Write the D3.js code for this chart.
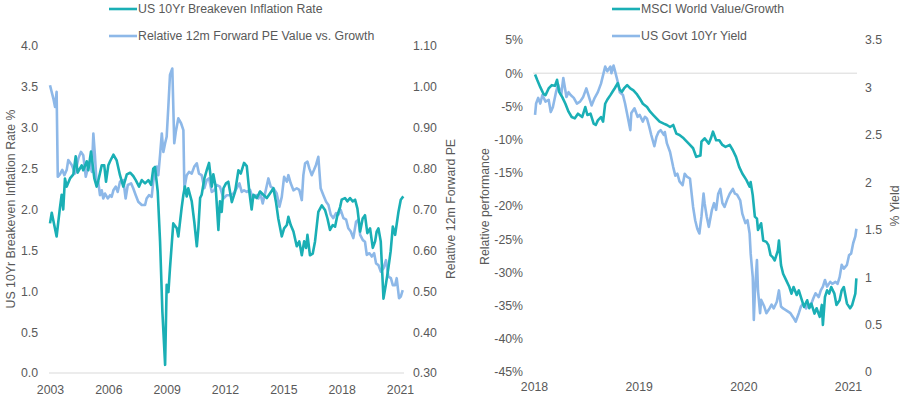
<!DOCTYPE html>
<html>
<head>
<meta charset="utf-8" />
<title>Value vs Growth, inflation and yields</title>
<style>
body { margin: 0; background: #fff; }
#graph { width: 906px; height: 397px; }
text { font-family: "Liberation Sans", Arial, sans-serif; font-size: 12.3px; fill: #595959; }
.line { fill: none; stroke-width: 2.6px; stroke-linejoin: round; }
.grid { stroke: #d9d9d9; stroke-width: 1px; }
</style>
</head>
<body>
<div id="graph"></div>
<script src="https://cdnjs.cloudflare.com/ajax/libs/d3/7.8.5/d3.min.js"></script>
<script>
// left panel: US 10yr breakeven (left axis) vs relative 12m fwd PE (right axis)
var beYears = [2003.00,2003.09,2003.34,2003.51,2003.60,2003.68,2003.77,2003.86,2004.03,2004.20,2004.32,2004.42,2004.63,2004.71,2004.89,2004.97,
  2005.11,2005.28,2005.40,2005.48,2005.66,2005.79,2005.88,2006.00,2006.09,2006.26,2006.43,2006.60,2006.77,2006.95,2007.12,2007.28,2007.41,
  2007.58,2007.72,2007.89,2008.06,2008.20,2008.31,2008.40,2008.54,2008.66,2008.78,2008.92,2009.00,2009.09,2009.17,2009.34,2009.52,2009.60,
  2009.77,2009.86,2009.94,2010.03,2010.11,2010.29,2010.42,2010.55,2010.63,2010.72,2010.80,2010.94,2011.06,2011.18,2011.32,2011.40,2011.52,
  2011.66,2011.74,2011.83,2011.92,2012.05,2012.17,2012.35,2012.52,2012.69,2012.81,2012.98,2013.12,2013.25,2013.37,2013.46,2013.63,2013.80,
  2013.97,2014.15,2014.32,2014.49,2014.63,2014.74,2014.92,2015.04,2015.18,2015.26,2015.38,2015.52,2015.69,2015.82,2015.95,2016.07,2016.17,
  2016.24,2016.37,2016.51,2016.63,2016.80,2016.98,2017.15,2017.27,2017.40,2017.54,2017.66,2017.78,2017.92,2018.00,2018.17,2018.29,2018.43,
  2018.57,2018.69,2018.81,2018.95,2019.08,2019.20,2019.32,2019.46,2019.60,2019.72,2019.80,2019.89,2020.01,2020.15,2020.27,2020.40,2020.52,
  2020.63,2020.75,2020.92,2021.04,2021.17]
var beRate = [1.83,1.96,1.67,2.02,2.18,2.00,2.38,2.28,2.38,2.43,2.65,2.45,2.54,2.48,2.59,2.48,
  2.71,2.38,2.28,2.35,2.54,2.54,2.34,2.54,2.59,2.67,2.60,2.42,2.28,2.43,2.45,2.41,2.36,
  2.28,2.36,2.32,2.36,2.30,2.50,2.52,2.22,1.61,0.75,0.10,1.08,0.99,1.28,1.83,1.77,1.67,
  2.02,2.18,2.28,2.16,2.26,2.10,1.85,1.55,1.77,2.14,2.18,2.38,2.48,2.57,2.28,2.43,2.28,
  1.75,2.10,1.97,2.26,2.32,2.34,2.09,2.22,2.48,2.44,2.57,2.53,2.22,2.00,2.18,2.14,2.22,
  2.18,2.14,2.20,2.26,2.08,1.89,1.67,1.77,1.81,1.91,1.81,1.73,1.55,1.61,1.44,1.61,1.53,
  1.69,1.44,1.46,1.61,1.97,2.05,1.99,1.89,1.75,1.81,1.79,1.93,2.03,2.12,2.14,2.10,2.14,
  2.10,2.12,2.01,1.73,1.89,1.93,1.71,1.77,1.53,1.61,1.73,1.77,1.61,0.91,1.08,1.28,1.49,
  1.79,1.69,1.97,2.12,2.16]

var peYears = [2003.00,2003.17,2003.26,2003.34,2003.40,2003.51,2003.63,2003.74,2003.86,2003.94,2004.12,2004.29,2004.46,2004.59,2004.71,2004.84,
  2004.94,2005.06,2005.15,2005.23,2005.31,2005.40,2005.48,2005.57,2005.66,2005.74,2005.83,2005.97,2006.09,2006.17,2006.26,2006.38,2006.48,
  2006.60,2006.77,2006.89,2007.00,2007.17,2007.28,2007.41,2007.54,2007.72,2007.89,2007.97,2008.09,2008.23,2008.31,2008.40,2008.49,2008.57,
  2008.66,2008.75,2008.83,2008.92,2009.00,2009.09,2009.17,2009.29,2009.39,2009.47,2009.60,2009.74,2009.86,2009.91,2010.03,2010.15,2010.29,
  2010.42,2010.55,2010.66,2010.80,2010.94,2011.06,2011.18,2011.32,2011.45,2011.57,2011.74,2011.92,2012.09,2012.26,2012.43,2012.60,2012.74,
  2012.86,2012.98,2013.12,2013.29,2013.43,2013.60,2013.72,2013.80,2013.94,2014.06,2014.23,2014.35,2014.49,2014.66,2014.80,2014.92,2015.04,
  2015.18,2015.26,2015.38,2015.52,2015.69,2015.82,2015.95,2016.03,2016.12,2016.24,2016.34,2016.46,2016.58,2016.68,2016.80,2016.92,2017.06,
  2017.20,2017.32,2017.44,2017.57,2017.71,2017.83,2017.95,2018.09,2018.23,2018.34,2018.47,2018.60,2018.74,2018.86,2018.95,2019.09,2019.20,
  2019.29,2019.43,2019.55,2019.67,2019.77,2019.89,2020.01,2020.15,2020.28,2020.40,2020.53,2020.63,2020.75,2020.83,2020.95,2021.04,2021.14]
var peRatio = [1.004,0.972,0.951,0.988,0.780,0.786,0.797,0.784,0.797,0.821,0.809,0.788,0.825,0.841,0.833,0.780,
  0.800,0.817,0.792,0.886,0.833,0.760,0.768,0.735,0.747,0.727,0.739,0.727,0.735,0.731,0.747,0.756,0.743,
  0.768,0.772,0.727,0.760,0.764,0.752,0.735,0.719,0.711,0.711,0.727,0.735,0.731,0.768,0.792,0.805,0.784,
  0.833,0.886,0.841,0.862,0.878,0.955,1.029,1.045,0.862,0.890,0.923,0.911,0.894,0.752,0.784,0.792,0.788,
  0.805,0.813,0.788,0.784,0.752,0.772,0.776,0.743,0.747,0.760,0.756,0.727,0.735,0.735,0.739,0.752,0.764,
  0.743,0.747,0.743,0.748,0.727,0.735,0.727,0.743,0.715,0.739,0.776,0.756,0.752,0.739,0.707,0.731,0.780,
  0.768,0.784,0.764,0.747,0.752,0.748,0.723,0.784,0.813,0.817,0.800,0.784,0.797,0.809,0.829,0.752,0.735,
  0.719,0.711,0.687,0.679,0.691,0.687,0.699,0.679,0.675,0.654,0.646,0.630,0.670,0.675,0.638,0.625,0.621,
  0.589,0.593,0.585,0.593,0.568,0.564,0.548,0.556,0.576,0.536,0.532,0.515,0.515,0.532,0.483,0.487,0.503]

// right panel: MSCI World Value/Growth (left axis) vs US govt 10yr yield (right axis)
var msciYears = [2018.01,2018.03,2018.06,2018.09,2018.11,2018.14,2018.17,2018.20,2018.22,2018.24,2018.27,2018.30,2018.33,2018.36,2018.39,2018.42,
  2018.46,2018.49,2018.51,2018.54,2018.57,2018.59,2018.61,2018.64,2018.66,2018.68,2018.70,2018.73,2018.75,2018.77,2018.80,2018.82,2018.84,
  2018.86,2018.89,2018.92,2018.95,2018.98,2019.01,2019.04,2019.08,2019.11,2019.14,2019.17,2019.20,2019.24,2019.27,2019.30,2019.33,2019.36,
  2019.39,2019.43,2019.46,2019.49,2019.52,2019.55,2019.59,2019.60,2019.63,2019.67,2019.69,2019.71,2019.74,2019.77,2019.80,2019.83,2019.87,
  2019.90,2019.93,2019.96,2019.99,2020.03,2020.06,2020.07,2020.09,2020.11,2020.13,2020.14,2020.17,2020.19,2020.22,2020.24,2020.26,2020.28,
  2020.30,2020.33,2020.34,2020.36,2020.38,2020.41,2020.44,2020.46,2020.48,2020.51,2020.53,2020.56,2020.58,2020.61,2020.63,2020.65,2020.68,
  2020.70,2020.73,2020.75,2020.76,2020.78,2020.80,2020.82,2020.84,2020.87,2020.89,2020.92,2020.94,2020.96,2020.99,2021.02,2021.04,2021.07,2021.08]
var msciRel = [-0.2,-1.0,-2.1,-3.1,-3.3,-2.3,-1.8,-1.9,-1.0,-2.8,-3.6,-4.6,-5.8,-6.6,-6.8,-6.1,
  -6.6,-5.1,-6.3,-6.1,-7.6,-7.8,-7.1,-6.6,-7.3,-4.6,-4.0,-3.3,-2.8,-2.3,-1.5,-2.5,-2.8,
  -2.3,-1.8,-2.3,-2.6,-3.1,-3.8,-4.6,-5.1,-5.8,-6.3,-6.8,-7.3,-7.6,-7.8,-8.1,-7.8,-9.1,
  -9.3,-9.8,-10.3,-10.8,-11.3,-12.6,-12.4,-10.3,-9.8,-10.6,-9.8,-8.8,-10.1,-10.1,-10.8,-11.1,-10.8,
  -11.6,-12.6,-14.1,-15.1,-16.1,-17.1,-16.4,-18.4,-21.6,-21.9,-23.6,-22.6,-25.2,-25.4,-25.9,-27.4,-27.7,
  -28.2,-26.7,-25.2,-28.9,-30.2,-31.2,-32.2,-33.2,-32.2,-33.4,-32.7,-34.2,-35.2,-34.2,-35.4,-34.7,-36.2,
  -35.4,-36.7,-34.9,-37.9,-33.7,-32.7,-33.2,-32.2,-33.2,-34.9,-34.2,-32.7,-32.2,-34.7,-35.4,-34.9,-33.2,-30.9]

var yieldYears = [2018.01,2018.02,2018.04,2018.06,2018.08,2018.11,2018.14,2018.16,2018.18,2018.21,2018.23,2018.26,2018.28,2018.31,2018.33,2018.35,
  2018.38,2018.41,2018.44,2018.47,2018.50,2018.52,2018.55,2018.58,2018.61,2018.64,2018.66,2018.68,2018.70,2018.73,2018.74,2018.76,2018.77,
  2018.80,2018.82,2018.85,2018.87,2018.89,2018.92,2018.93,2018.96,2018.99,2019.01,2019.04,2019.06,2019.08,2019.10,2019.12,2019.15,2019.17,
  2019.19,2019.21,2019.24,2019.25,2019.27,2019.30,2019.33,2019.35,2019.37,2019.39,2019.42,2019.44,2019.46,2019.49,2019.52,2019.54,2019.56,
  2019.58,2019.60,2019.62,2019.63,2019.65,2019.67,2019.70,2019.72,2019.74,2019.76,2019.78,2019.80,2019.82,2019.85,2019.87,2019.90,2019.92,
  2019.94,2019.97,2019.99,2020.02,2020.04,2020.06,2020.07,2020.09,2020.10,2020.11,2020.13,2020.14,2020.16,2020.17,2020.20,2020.22,2020.25,
  2020.27,2020.29,2020.32,2020.34,2020.36,2020.38,2020.41,2020.45,2020.48,2020.50,2020.53,2020.55,2020.57,2020.60,2020.62,2020.64,2020.67,
  2020.69,2020.72,2020.74,2020.76,2020.78,2020.80,2020.83,2020.85,2020.88,2020.90,2020.92,2020.94,2020.96,2020.99,2021.01,2021.03,2021.05,
  2021.07,2021.08]
var yieldPct = [2.71,2.83,2.89,2.83,2.92,2.85,2.87,2.74,2.79,2.95,3.03,2.92,3.10,2.90,2.95,2.92,
  2.89,2.83,2.85,2.90,2.99,2.92,2.81,2.89,2.95,3.04,3.13,3.22,3.17,3.22,3.15,3.23,3.19,
  3.06,2.95,2.92,2.83,2.72,2.55,2.73,2.78,2.69,2.71,2.64,2.69,2.67,2.59,2.50,2.38,2.48,
  2.53,2.55,2.50,2.53,2.41,2.32,2.16,2.07,2.09,2.01,1.97,2.09,2.06,2.04,1.74,1.60,1.51,
  1.46,1.64,1.88,1.78,1.64,1.53,1.71,1.78,1.71,1.88,1.93,1.78,1.74,1.83,1.88,1.93,1.88,
  1.87,1.81,1.67,1.57,1.60,1.46,1.25,1.00,0.55,0.83,1.18,0.86,0.62,0.76,0.69,0.62,0.67,
  0.71,0.67,0.74,0.86,0.69,0.67,0.65,0.62,0.57,0.53,0.62,0.69,0.72,0.67,0.72,0.69,0.78,
  0.83,0.79,0.86,0.90,0.97,0.90,0.95,0.93,0.95,0.93,1.00,1.13,1.09,1.13,1.23,1.25,1.36,
  1.43,1.51]

var leftYearTicks = [2003, 2006, 2009, 2012, 2015, 2018, 2021]
var rateTicks = [0, 0.5, 1, 1.5, 2, 2.5, 3, 3.5, 4]
var peTicks = [0.3, 0.4, 0.5, 0.6, 0.7, 0.8, 0.9, 1.0, 1.1]
var rightYearTicks = [2018, 2019, 2020, 2021]
var perfTicks = [5, 0, -5, -10, -15, -20, -25, -30, -35, -40, -45]
var yieldTicks = [0, 0.5, 1, 1.5, 2, 2.5, 3, 3.5]

var leftLegend = ["US 10Yr Breakeven Inflation Rate", "Relative 12m Forward PE Value vs. Growth"]
var rightLegend = ["MSCI World Value/Growth", "US Govt 10Yr Yield"]

!(function(){
    "use strict"

    var teal = "#1aafb5"
    var blue = "#8db8e8"

    var svg = d3.select("#graph").append("svg").attr("width", 906).attr("height", 397)

    function zip(xs, ys) {
        return xs.map(function(x, i){ return [x, ys[i]] })
    }

    function drawLine(layer, data, x, y, color) {
        var line = d3.line().x(function(d){ return x(d[0]) }).y(function(d){ return y(d[1]) })
        layer.append("path").datum(data).attr("class", "line").attr("stroke", color).attr("d", line)
    }

    function axis(g, ax) {
        g.call(ax)
        g.select(".domain").remove()
        g.selectAll("text").attr("fill", null)
    }

    function legend(x0, labels) {
        var colors = [teal, blue]
        var ys = [9, 36]
        labels.forEach(function(label, i){
            svg.append("line").attr("x1", x0).attr("x2", x0 + 28).attr("y1", ys[i]).attr("y2", ys[i])
                .attr("stroke", colors[i]).attr("stroke-width", 2.6)
            svg.append("text").attr("x", x0 + 29).attr("y", ys[i]).attr("dy", "0.35em").text(label)
        })
    }

    function yTitle(x, y, label) {
        svg.append("text").attr("transform", "translate(" + [x, y] + ") rotate(-90)")
            .attr("text-anchor", "middle").attr("dy", "0.35em").text(label)
    }

    // ---- left panel ----
    var xL = d3.scaleLinear().domain([2003, 2021]).range([50, 400])
    var yRate = d3.scaleLinear().domain([0, 4]).range([373, 46])
    var yPe = d3.scaleLinear().domain([0.3, 1.1]).range([373, 46])

    svg.append("line").attr("class", "grid").attr("x1", 49).attr("x2", 404)
        .attr("y1", yRate(0)).attr("y2", yRate(0))

    axis(svg.append("g").attr("transform", "translate(50,0)"),
        d3.axisLeft(yRate).tickValues(rateTicks).tickSize(0).tickPadding(12).tickFormat(d3.format(".1f")))
    axis(svg.append("g").attr("transform", "translate(404,0)"),
        d3.axisRight(yPe).tickValues(peTicks).tickSize(0).tickPadding(9).tickFormat(d3.format(".2f")))
    axis(svg.append("g").attr("transform", "translate(0,373)"),
        d3.axisBottom(xL).tickValues(leftYearTicks).tickSize(0).tickPadding(12.3).tickFormat(d3.format("d")))

    var leftLayer = svg.append("g")
    drawLine(leftLayer, zip(peYears, peRatio), xL, yPe, blue)
    drawLine(leftLayer, zip(beYears, beRate), xL, yRate, teal)

    yTitle(10.5, 209, "US 10Yr Breakeven Inflation Rate %")
    yTitle(450.5, 209, "Relative 12m Forward PE")
    legend(109, leftLegend)

    // ---- right panel ----
    var xR = d3.scaleLinear().domain([2018, 2021]).range([534, 848])
    var yPerf = d3.scaleLinear().domain([-45, 5]).range([372, 40])
    var yYield = d3.scaleLinear().domain([0, 3.5]).range([372, 40])

    svg.append("line").attr("class", "grid").attr("x1", 533).attr("x2", 857)
        .attr("y1", yPerf(0)).attr("y2", yPerf(0))

    axis(svg.append("g").attr("transform", "translate(534,0)"),
        d3.axisLeft(yPerf).tickValues(perfTicks).tickSize(0).tickPadding(11).tickFormat(function(d){ return d + "%" }))
    axis(svg.append("g").attr("transform", "translate(857,0)"),
        d3.axisRight(yYield).tickValues(yieldTicks).tickSize(0).tickPadding(8).tickFormat(d3.format("")))
    axis(svg.append("g").attr("transform", "translate(0,372)"),
        d3.axisBottom(xR).tickValues(rightYearTicks).tickSize(0).tickPadding(10.3).tickFormat(d3.format("d")))

    var rightLayer = svg.append("g")
    drawLine(rightLayer, zip(yieldYears, yieldPct), xR, yYield, blue)
    drawLine(rightLayer, zip(msciYears, msciRel), xR, yPerf, teal)

    yTitle(485, 206.5, "Relative performance")
    yTitle(895, 206, "% Yield")
    legend(612, rightLegend)
}());
</script>
</body>
</html>
